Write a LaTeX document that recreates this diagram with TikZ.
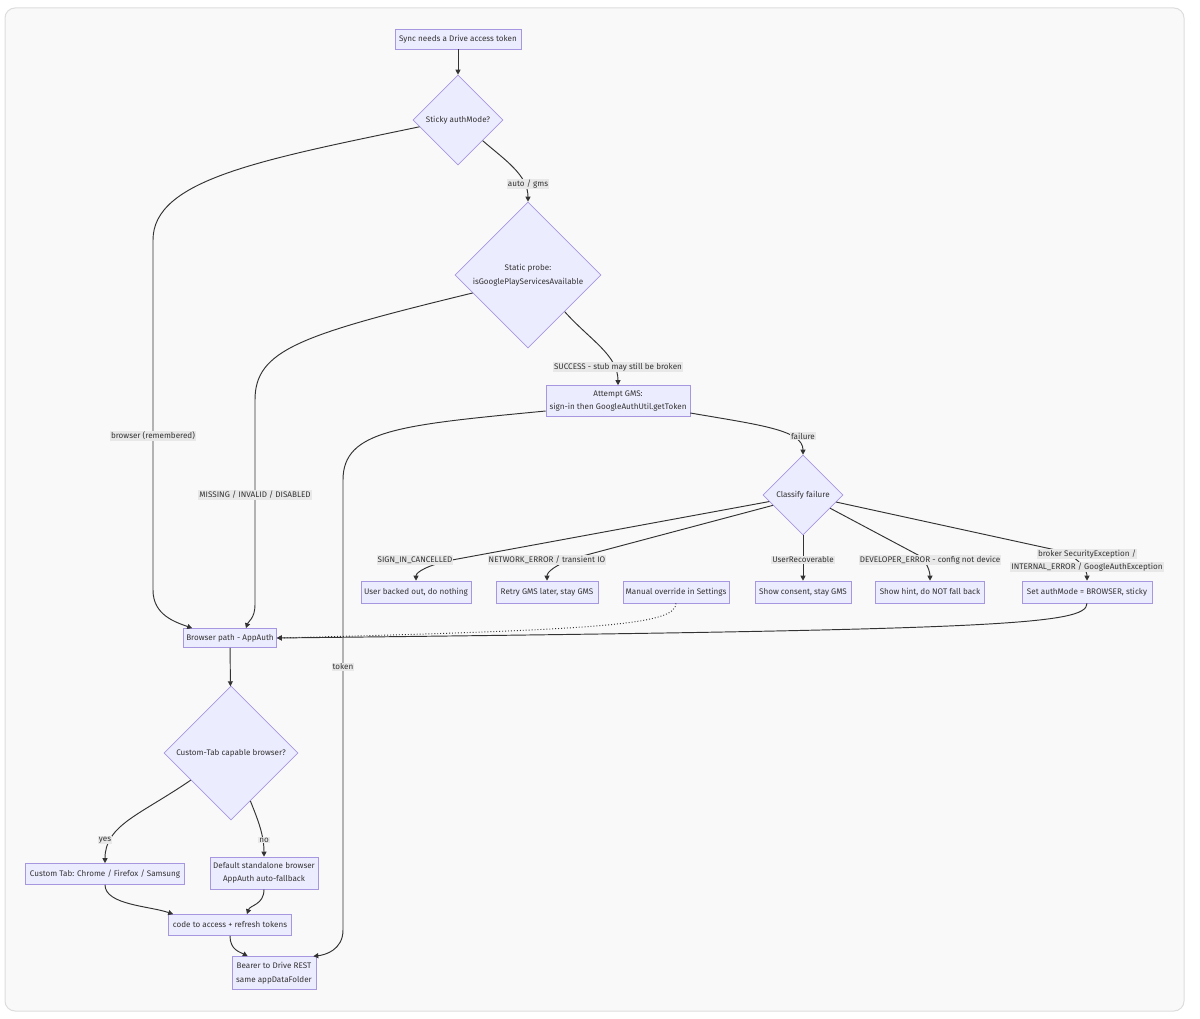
\documentclass[tikz,border=0pt]{standalone}
\usepackage{fontspec}
\setmainfont{Fira Sans}
\usetikzlibrary{shapes.geometric,arrows.meta,calc}
\definecolor{nodefill}{HTML}{ECECFF}
\definecolor{nodeline}{HTML}{A796E0}
\definecolor{txt}{HTML}{333333}
\definecolor{edgec}{HTML}{333333}
\definecolor{lblbg}{HTML}{E8E8E8}
\definecolor{panel}{HTML}{F9F9F9}
\definecolor{panelline}{HTML}{DDDDDD}
\begin{document}
\begin{tikzpicture}[x=1pt,y=-1pt,
 font=\fontsize{8.1}{13.5}\selectfont, text=txt,
 box/.style={draw=nodeline, fill=nodefill, line width=0.6pt, inner sep=0pt, align=center},
 dia/.style={diamond, aspect=1, draw=nodeline, fill=nodefill, line width=0.6pt, inner sep=0pt, align=center},
 lbl/.style={fill=lblbg, inner sep=1.1pt, align=center, font=\fontsize{8.1}{13}\selectfont},
 ar/.style={draw=edgec, line width=0.95pt, -{Triangle[length=5pt,width=5pt]}},
]
\useasboundingbox (0,0) rectangle (1200,1019);
\draw[panelline, fill=panel, line width=1pt, rounded corners=10pt] (5,8) rectangle (1184,1011);

% nodes
\node[box, minimum width=126pt, minimum height=20pt] (n1) at (458,39) {Sync needs a Drive access token};
\node[dia, minimum width=90pt, minimum height=90pt] (d1) at (458,120) {Sticky authMode?};
\node[dia, minimum width=146pt, minimum height=146pt] (d2) at (528,275) {Static probe:\\isGooglePlayServicesAvailable};
\node[box, minimum width=144pt, minimum height=31pt] (n2) at (618,401) {Attempt GMS:\\sign-in then GoogleAuthUtil.getToken};
\node[dia, minimum width=80pt, minimum height=80pt] (d3) at (803,495) {Classify failure};
\node[box, minimum width=110pt, minimum height=22pt] (r1) at (416,592) {User backed out, do nothing};
\node[box, minimum width=102pt, minimum height=22pt] (r2) at (547,592) {Retry GMS later, stay GMS};
\node[box, minimum width=106pt, minimum height=22pt] (r3) at (676,592) {Manual override in Settings};
\node[box, minimum width=96pt, minimum height=22pt] (r4) at (803,592) {Show consent, stay GMS};
\node[box, minimum width=109pt, minimum height=22pt] (r5) at (930,592) {Show hint, do NOT fall back};
\node[box, minimum width=130pt, minimum height=22pt] (r6) at (1087,592) {Set authMode = BROWSER, sticky};
\node[box, minimum width=93pt, minimum height=19pt] (bp) at (230,638) {Browser path - AppAuth};
\node[dia, minimum width=134pt, minimum height=134pt] (d4) at (231,753) {Custom-Tab capable browser?};
\node[box, minimum width=159pt, minimum height=21pt] (ct) at (105,874) {Custom Tab: Chrome / Firefox / Samsung};
\node[box, minimum width=108pt, minimum height=32pt] (db) at (264,873) {Default standalone browser\\AppAuth auto-fallback};
\node[box, minimum width=123pt, minimum height=21pt] (cd) at (230,925) {code to access + refresh tokens};
\node[box, minimum width=84pt, minimum height=33pt] (br) at (274,973) {Bearer to Drive REST\\same appDataFolder};

% edges
\draw[ar] (n1) -- (d1);
\draw[ar] (d1.190) .. controls (260,160) and (153,180) .. (153,240) -- (153,590) .. controls (153,615) and (175,622) .. ($(bp.north west)+(9,0)$);
\draw[ar] (d1.320) .. controls (505,160) and (528,175) .. (d2.north);
\draw[ar] (d2.198) .. controls (300,335) and (255,350) .. (255,400) -- (255,605) .. controls (255,618) and (248,622) .. ($(bp.north)+(16,0)$);
\draw[ar] (d2.315) .. controls (590,340) and (618,355) .. (n2.north);
\draw[ar] ($(n2.west)+(0,10)$) .. controls (400,425) and (343,430) .. (343,480) -- (343,930) .. controls (343,950) and (325,955) .. ($(br.north east)+(-3,0)$);
\draw[ar] ($(n2.east)+(0,12)$) .. controls (760,425) and (803,430) .. (d3.north);
\draw[ar] (d3.191) -- (452,560) .. controls (428,565) and (416,572) .. (r1.north);
\draw[ar] (d3.199) -- (575,558) .. controls (555,565) and (547,572) .. (r2.north);
\draw[ar] (d3.south) -- (r4.north);
\draw[ar] (d3.334) -- (918,555) .. controls (927,561) and (930,572) .. (r5.north);
\draw[ar] (d3.348) -- (1065,552) .. controls (1080,560) and (1087,570) .. (r6.north);
\draw[ar, dotted] (r3.south) .. controls (676,625) and (600,630) .. (bp.east);
\draw[ar] (r6.south) .. controls (1087,625) and (1000,630) .. (bp.east);
\draw[ar] (bp) -- (d4);
\draw[ar] (d4.214) .. controls (140,815) and (105,825) .. (ct.north);
\draw[ar] (d4.292) .. controls (258,820) and (264,835) .. (db.north);
\draw[ar] (ct.south) .. controls (105,905) and (150,906) .. ($(cd.north west)+(5,0)$);
\draw[ar] (db.south) .. controls (264,905) and (250,905) .. ($(cd.north)+(17,0)$);
\draw[ar] (cd.south) .. controls (230,950) and (240,952) .. ($(br.north west)+(16,0)$);

% labels
\node[lbl] (l1) at (153,436) {browser (remembered)};
\node[lbl] (l2) at (528,184) {auto / gms};
\node[lbl] (l3) at (255,495) {MISSING / INVALID / DISABLED};
\node[lbl] (l4) at (618,367) {SUCCESS - stub may still be broken};
\node[lbl] (l5) at (343,667) {token};
\node[lbl] (l6) at (803,436) {failure};
\node[lbl] (l7) at (415,560) {SIGN\_IN\_CANCELLED};
\node[lbl] (l8) at (547,560) {NETWORK\_ERROR / transient IO};
\node[lbl] (l9) at (803,560) {UserRecoverable};
\node[lbl] (l10) at (930,560) {DEVELOPER\_ERROR - config not device};
\node[lbl] (l11a) at (1087,554) {broker SecurityException /};
\node[lbl] (l11b) at (1087,567) {INTERNAL\_ERROR / GoogleAuthException};
\node[lbl] (l12) at (105,840) {yes};
\node[lbl] (l13) at (264,840) {no};
\end{tikzpicture}
\end{document}
